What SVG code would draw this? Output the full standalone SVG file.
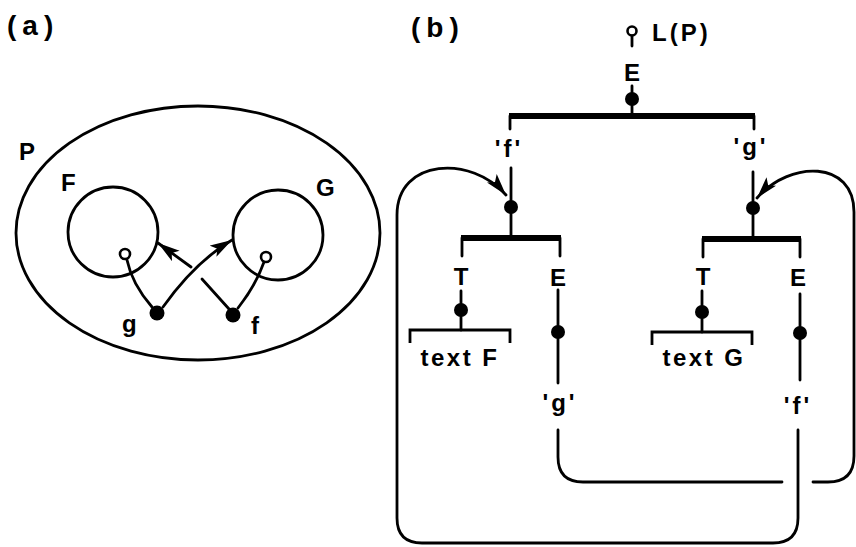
<svg xmlns="http://www.w3.org/2000/svg" width="856" height="547" viewBox="0 0 856 547">
<style>
  .ln{fill:none;stroke:#000;stroke-width:2.8;stroke-linecap:round}
  .bar{fill:none;stroke:#000;stroke-width:6;stroke-linecap:butt}
  .dot{fill:#000}
  .ring{fill:#fff;stroke:#000;stroke-width:2.6}
  text{font-family:"Liberation Sans",Arial,sans-serif;font-weight:bold;fill:#000}
  .lb{font-size:24px;letter-spacing:2px}
  .big{font-size:28px;letter-spacing:6px}
  .m{text-anchor:middle}
</style>
<defs>
  <marker id="ah" markerUnits="userSpaceOnUse" markerWidth="24" markerHeight="14" refX="22" refY="7" orient="auto">
    <path d="M0,0.5 L22,7 L0,13.5 L5,7 z" fill="#000"/>
  </marker>
</defs>
<rect width="856" height="547" fill="#fff"/>

<!-- panel (a) -->
<g id="label-a"><text class="big" x="7" y="35">(a)</text></g>
<g id="node-P">
  <ellipse class="ln" cx="198" cy="233" rx="182" ry="127"/>
  <text class="lb" x="19" y="160">P</text>
</g>
<g id="node-F">
  <circle class="ln" cx="113" cy="232" r="45"/>
  <text class="lb" x="61" y="191">F</text>
</g>
<g id="node-G">
  <circle class="ln" cx="278" cy="235" r="45"/>
  <text class="lb" x="316" y="196">G</text>
</g>
<g id="port-F"><circle class="ring" cx="125" cy="254" r="5"/></g>
<g id="port-G"><circle class="ring" cx="266" cy="257" r="5"/></g>
<g id="node-g">
  <circle class="dot" cx="157" cy="313" r="7.5"/>
  <text class="lb" x="122" y="332">g</text>
</g>
<g id="node-f">
  <circle class="dot" cx="233" cy="315" r="7.5"/>
  <text class="lb" x="251" y="334">f</text>
</g>
<g id="connectors-a">
  <path class="ln" d="M152,307 Q132,284 127,260"/>
  <path class="ln" d="M163,307 Q195,262 232,240" marker-end="url(#ah)"/>
  <path class="ln" d="M238,308 Q256,285 264,262"/>
  <path class="ln" d="M229,309 L202,279"/>
  <path class="ln" d="M191,267 L158,243" marker-end="url(#ah)"/>
</g>

<!-- panel (b) -->
<g id="label-b"><text class="big" x="411" y="37">(b)</text></g>
<g id="node-LP">
  <circle class="ring" cx="632" cy="31" r="4.5"/>
  <text class="lb" x="652" y="41" style="letter-spacing:3px">L(P)</text>
</g>
<g id="node-root">
  <text class="lb m" x="632" y="81" style="letter-spacing:0">E</text>
  <circle class="dot" cx="632" cy="99" r="7"/>
  <path class="bar" d="M509,116 H755"/>
</g>
<g id="node-F-rec">
  <text class="lb m" x="509" y="157" style="letter-spacing:3px">'f'</text>
  <circle class="dot" cx="511" cy="207" r="7"/>
  <path class="bar" d="M461,238 H561"/>
  <text class="lb m" x="461" y="285" style="letter-spacing:0">T</text>
  <text class="lb m" x="558" y="286" style="letter-spacing:0">E</text>
  <circle class="dot" cx="461" cy="310" r="7"/>
  <path class="ln" d="M410,343 V330 H510 V343" style="stroke-linecap:butt"/>
  <text class="lb m" x="460" y="366" style="letter-spacing:2.5px">text F</text>
  <circle class="dot" cx="558" cy="332" r="7"/>
  <text class="lb m" x="560" y="411" style="letter-spacing:3px">'g'</text>
</g>
<g id="node-G-rec">
  <text class="lb m" x="751" y="155" style="letter-spacing:3px">'g'</text>
  <circle class="dot" cx="753" cy="208" r="7"/>
  <path class="bar" d="M702,239 H801"/>
  <text class="lb m" x="703" y="285" style="letter-spacing:0">T</text>
  <text class="lb m" x="798" y="286" style="letter-spacing:0">E</text>
  <circle class="dot" cx="702" cy="312" r="7"/>
  <path class="ln" d="M652,345 V332 H752 V345" style="stroke-linecap:butt"/>
  <text class="lb m" x="704" y="366" style="letter-spacing:2.5px">text G</text>
  <circle class="dot" cx="800" cy="333" r="7"/>
  <text class="lb m" x="798" y="414" style="letter-spacing:3px">'f'</text>
</g>
<g id="connectors-b">
  <path class="ln" d="M632,36 V46"/>
  <path class="ln" d="M632,86 V116"/>
  <path class="ln" d="M510,116 V129"/>
  <path class="ln" d="M754,116 V129"/>
  <path class="ln" d="M511,168 V238"/>
  <path class="ln" d="M753,172 V239"/>
  <path class="ln" d="M462,238 V256"/>
  <path class="ln" d="M560,238 V256"/>
  <path class="ln" d="M703,239 V257"/>
  <path class="ln" d="M800,239 V257"/>
  <path class="ln" d="M461,291 V330"/>
  <path class="ln" d="M558,290 V383"/>
  <path class="ln" d="M702,291 V332"/>
  <path class="ln" d="M800,294 V380"/>
  <path class="ln" d="M558,430 V457 Q558,482 583,482 H782"/>
  <path class="ln" d="M813,482 H828 Q854,482 854,456 V212 C854,160 790,160 757,198" marker-end="url(#ah)"/>
  <path class="ln" d="M798,430 V518 Q798,543 773,543 H422 Q397,543 397,518 V215 C397,158 472,155 506,195" marker-end="url(#ah)"/>
</g>
</svg>
